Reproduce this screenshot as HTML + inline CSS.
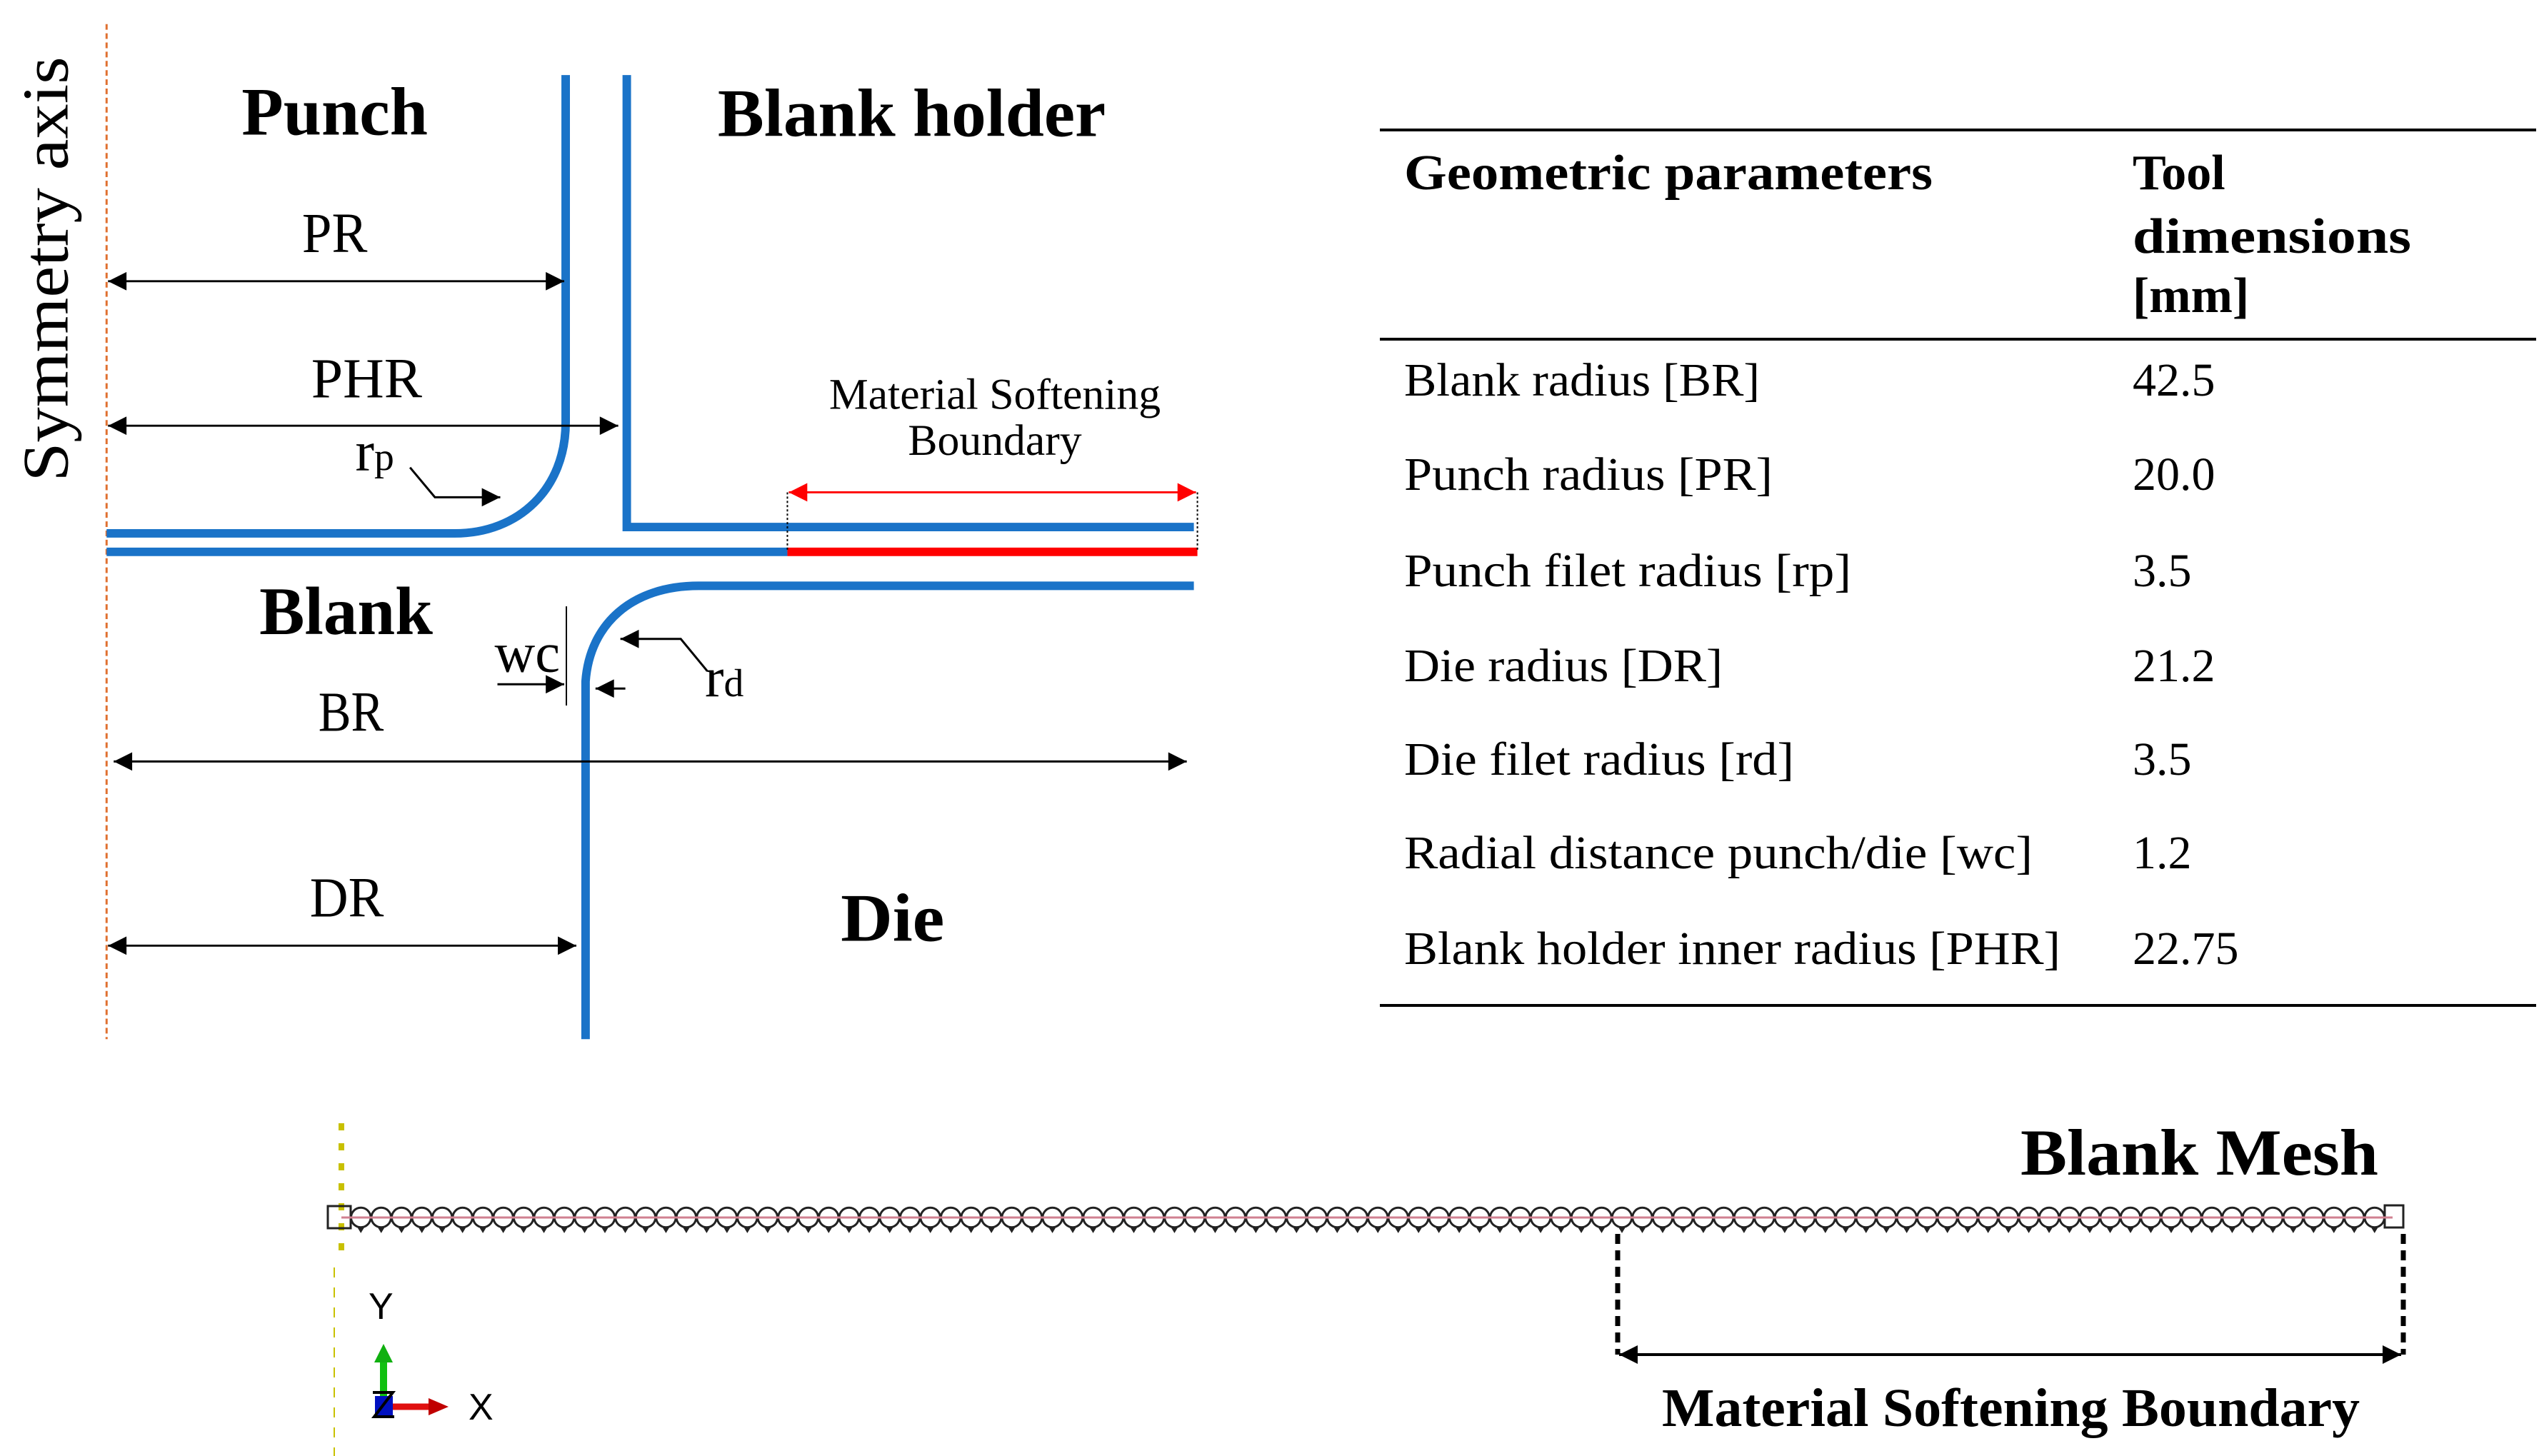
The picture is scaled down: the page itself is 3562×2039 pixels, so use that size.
<!DOCTYPE html>
<html><head><meta charset="utf-8"><style>html,body{margin:0;padding:0;background:#fff}svg{display:block}</style></head>
<body>
<svg width="3562" height="2039" viewBox="0 0 3562 2039" xmlns="http://www.w3.org/2000/svg" font-family="Liberation Serif, serif">
<defs>
<marker id="ab" viewBox="0 0 10 10" refX="10" refY="5" markerWidth="30" markerHeight="26" markerUnits="userSpaceOnUse" orient="auto-start-reverse"><path d="M0,0 L10,5 L0,10 z" fill="#000"/></marker>
<marker id="ar" viewBox="0 0 10 10" refX="10" refY="5" markerWidth="30" markerHeight="26" markerUnits="userSpaceOnUse" orient="auto-start-reverse"><path d="M0,0 L10,5 L0,10 z" fill="#f00"/></marker>
</defs>
<g transform="scale(0.995,0.992)">
<line x1="150" y1="34" x2="150" y2="1467" stroke="#e07030" stroke-width="3" stroke-dasharray="8,5"/>
<text transform="translate(95,380) rotate(-90)" text-anchor="middle" font-size="92" textLength="600" lengthAdjust="spacingAndGlyphs">Symmetry axis</text>
<g fill="none" stroke="#1a73c8" stroke-width="12">
<path d="M796 106 L796 596 C796 690 730 753 640 753 L150 753"/>
<path d="M882 106 L882 744 L1680 744"/>
<path d="M150 779 L1108 779"/>
<path d="M1680 827 L983 827 C890 827 830 880 824 962 L824 1467"/>
</g>
<line x1="1108" y1="779" x2="1685" y2="779" stroke="#f00" stroke-width="12"/>
<line x1="1108" y1="695" x2="1108" y2="779" stroke="#000" stroke-width="2" stroke-dasharray="3,3"/>
<line x1="1685" y1="695" x2="1685" y2="779" stroke="#000" stroke-width="2" stroke-dasharray="3,3"/>
<line x1="1110" y1="695" x2="1683" y2="695" stroke="#f00" stroke-width="3" marker-start="url(#ar)" marker-end="url(#ar)"/>
<g stroke="#000" stroke-width="3" fill="none">
<line x1="152" y1="397" x2="794" y2="397" marker-start="url(#ab)" marker-end="url(#ab)"/>
<line x1="152" y1="601" x2="870" y2="601" marker-start="url(#ab)" marker-end="url(#ab)"/>
<line x1="160" y1="1075" x2="1670" y2="1075" marker-start="url(#ab)" marker-end="url(#ab)"/>
<line x1="152" y1="1335" x2="811" y2="1335" marker-start="url(#ab)" marker-end="url(#ab)"/>
<polyline points="577,660 612,702 704,702" marker-end="url(#ab)"/>
<line x1="700" y1="966" x2="794" y2="966" marker-end="url(#ab)"/>
<line x1="797" y1="856" x2="797" y2="996" stroke-width="2"/>
<line x1="880" y1="972" x2="838" y2="972" marker-end="url(#ab)"/>
<polyline points="995,947 958,902 873,902" marker-end="url(#ab)"/>
</g>
<g font-weight="bold" font-size="96">
<text x="340" y="190" textLength="262" lengthAdjust="spacingAndGlyphs">Punch</text>
<text x="1010" y="192" textLength="546" lengthAdjust="spacingAndGlyphs">Blank holder</text>
<text x="365" y="895" textLength="244" lengthAdjust="spacingAndGlyphs">Blank</text>
<text x="1183" y="1328" textLength="146" lengthAdjust="spacingAndGlyphs">Die</text>
</g>
<g font-size="80">
<text x="425" y="356" textLength="92" lengthAdjust="spacingAndGlyphs">PR</text>
<text x="438" y="561" textLength="156" lengthAdjust="spacingAndGlyphs">PHR</text>
<text x="448" y="1032" textLength="92" lengthAdjust="spacingAndGlyphs">BR</text>
<text x="436" y="1294" textLength="104" lengthAdjust="spacingAndGlyphs">DR</text>
<text x="500" y="664">r<tspan font-size="56">p</tspan></text>
<text x="696" y="948" textLength="92" lengthAdjust="spacingAndGlyphs">wc</text>
<text x="992" y="983">r<tspan font-size="56">d</tspan></text>
</g>
<g font-size="62" text-anchor="middle">
<text x="1400" y="577">Material Softening</text>
<text x="1400" y="642">Boundary</text>
</g>
</g>
<g stroke="#000" stroke-width="4">
<line x1="1932" y1="182" x2="3551" y2="182"/>
<line x1="1932" y1="475" x2="3551" y2="475"/>
<line x1="1932" y1="1408" x2="3551" y2="1408"/>
</g>
<g font-weight="bold" font-size="70">
<text x="1966" y="265" textLength="740" lengthAdjust="spacingAndGlyphs">Geometric parameters</text>
<text x="2986" y="265">Tool</text>
<text x="2986" y="354" textLength="390" lengthAdjust="spacingAndGlyphs">dimensions</text>
<text x="2986" y="437">[mm]</text>
</g>
<g font-size="66">
<text x="1966" y="554" textLength="498" lengthAdjust="spacingAndGlyphs">Blank radius [BR]</text>
<text x="1966" y="686" textLength="516" lengthAdjust="spacingAndGlyphs">Punch radius [PR]</text>
<text x="1966" y="821" textLength="626" lengthAdjust="spacingAndGlyphs">Punch filet radius [rp]</text>
<text x="1966" y="954" textLength="446" lengthAdjust="spacingAndGlyphs">Die radius [DR]</text>
<text x="1966" y="1085" textLength="546" lengthAdjust="spacingAndGlyphs">Die filet radius [rd]</text>
<text x="1966" y="1216" textLength="880" lengthAdjust="spacingAndGlyphs">Radial distance punch/die [wc]</text>
<text x="1966" y="1350" textLength="919" lengthAdjust="spacingAndGlyphs">Blank holder inner radius [PHR]</text>
<text x="2986" y="554">42.5</text>
<text x="2986" y="686">20.0</text>
<text x="2986" y="821">3.5</text>
<text x="2986" y="954">21.2</text>
<text x="2986" y="1085">3.5</text>
<text x="2986" y="1216">1.2</text>
<text x="2986" y="1350">22.75</text>
</g>
<line x1="478" y1="1573" x2="478" y2="1765" stroke="#c8c000" stroke-width="8" stroke-dasharray="10,18"/>
<line x1="468" y1="1775" x2="468" y2="2039" stroke="#c8c000" stroke-width="2" stroke-dasharray="14,14"/>
<g fill="none" stroke="#222" stroke-width="3">
<rect x="459" y="1689" width="32" height="31"/>
<rect x="3339" y="1688" width="26" height="31"/>
</g>
<g id="mesh" fill="none" stroke="#222" stroke-width="3"></g>
<line x1="478" y1="1705" x2="3350" y2="1705" stroke="#d08090" stroke-width="3"/>
<line x1="537" y1="1955" x2="537" y2="1900" stroke="#10c010" stroke-width="10"/>
<path d="M537 1882 L524 1908 L550 1908 z" fill="#10b010"/>
<rect x="525" y="1955" width="25" height="30" fill="#0010c0"/>
<path d="M522 1950 L550 1950 L524 1984 L552 1984" fill="none" stroke="#000" stroke-width="4"/>
<line x1="550" y1="1970" x2="605" y2="1970" stroke="#e01010" stroke-width="9"/>
<path d="M628 1970 L600 1958 L600 1982 z" fill="#c00000"/>
<g font-family="Liberation Sans, sans-serif" font-size="52">
<text x="516" y="1847">Y</text>
<text x="656" y="1988">X</text>
</g>
<line x1="2265" y1="1728" x2="2265" y2="1897" stroke="#000" stroke-width="7" stroke-dasharray="14,9"/>
<line x1="3365" y1="1728" x2="3365" y2="1897" stroke="#000" stroke-width="7" stroke-dasharray="14,9"/>
<line x1="2267" y1="1897" x2="3362" y2="1897" stroke="#000" stroke-width="4" marker-start="url(#ab)" marker-end="url(#ab)"/>
<text x="2829" y="1645" font-weight="bold" font-size="92" textLength="501" lengthAdjust="spacingAndGlyphs">Blank Mesh</text>
<text x="2327" y="1997" font-weight="bold" font-size="76" textLength="977" lengthAdjust="spacingAndGlyphs">Material Softening Boundary</text>
</svg>
<script>
var g=document.getElementById('mesh'),ns='http://www.w3.org/2000/svg';
var n=100,x0=491,x1=3339,p=(x1-x0)/n;
for(var i=0;i<n;i++){var c=document.createElementNS(ns,'circle');c.setAttribute('cx',x0+p*(i+0.5));c.setAttribute('cy',1705);c.setAttribute('r',p/2-0.5);g.appendChild(c);
var t=document.createElementNS(ns,'path');var cx=x0+p*(i+0.5);t.setAttribute('d','M'+(cx-3)+' 1719 L'+(cx+3)+' 1719 L'+cx+' 1724 z');t.setAttribute('fill','#000');g.appendChild(t);}
</script>
</body></html>
